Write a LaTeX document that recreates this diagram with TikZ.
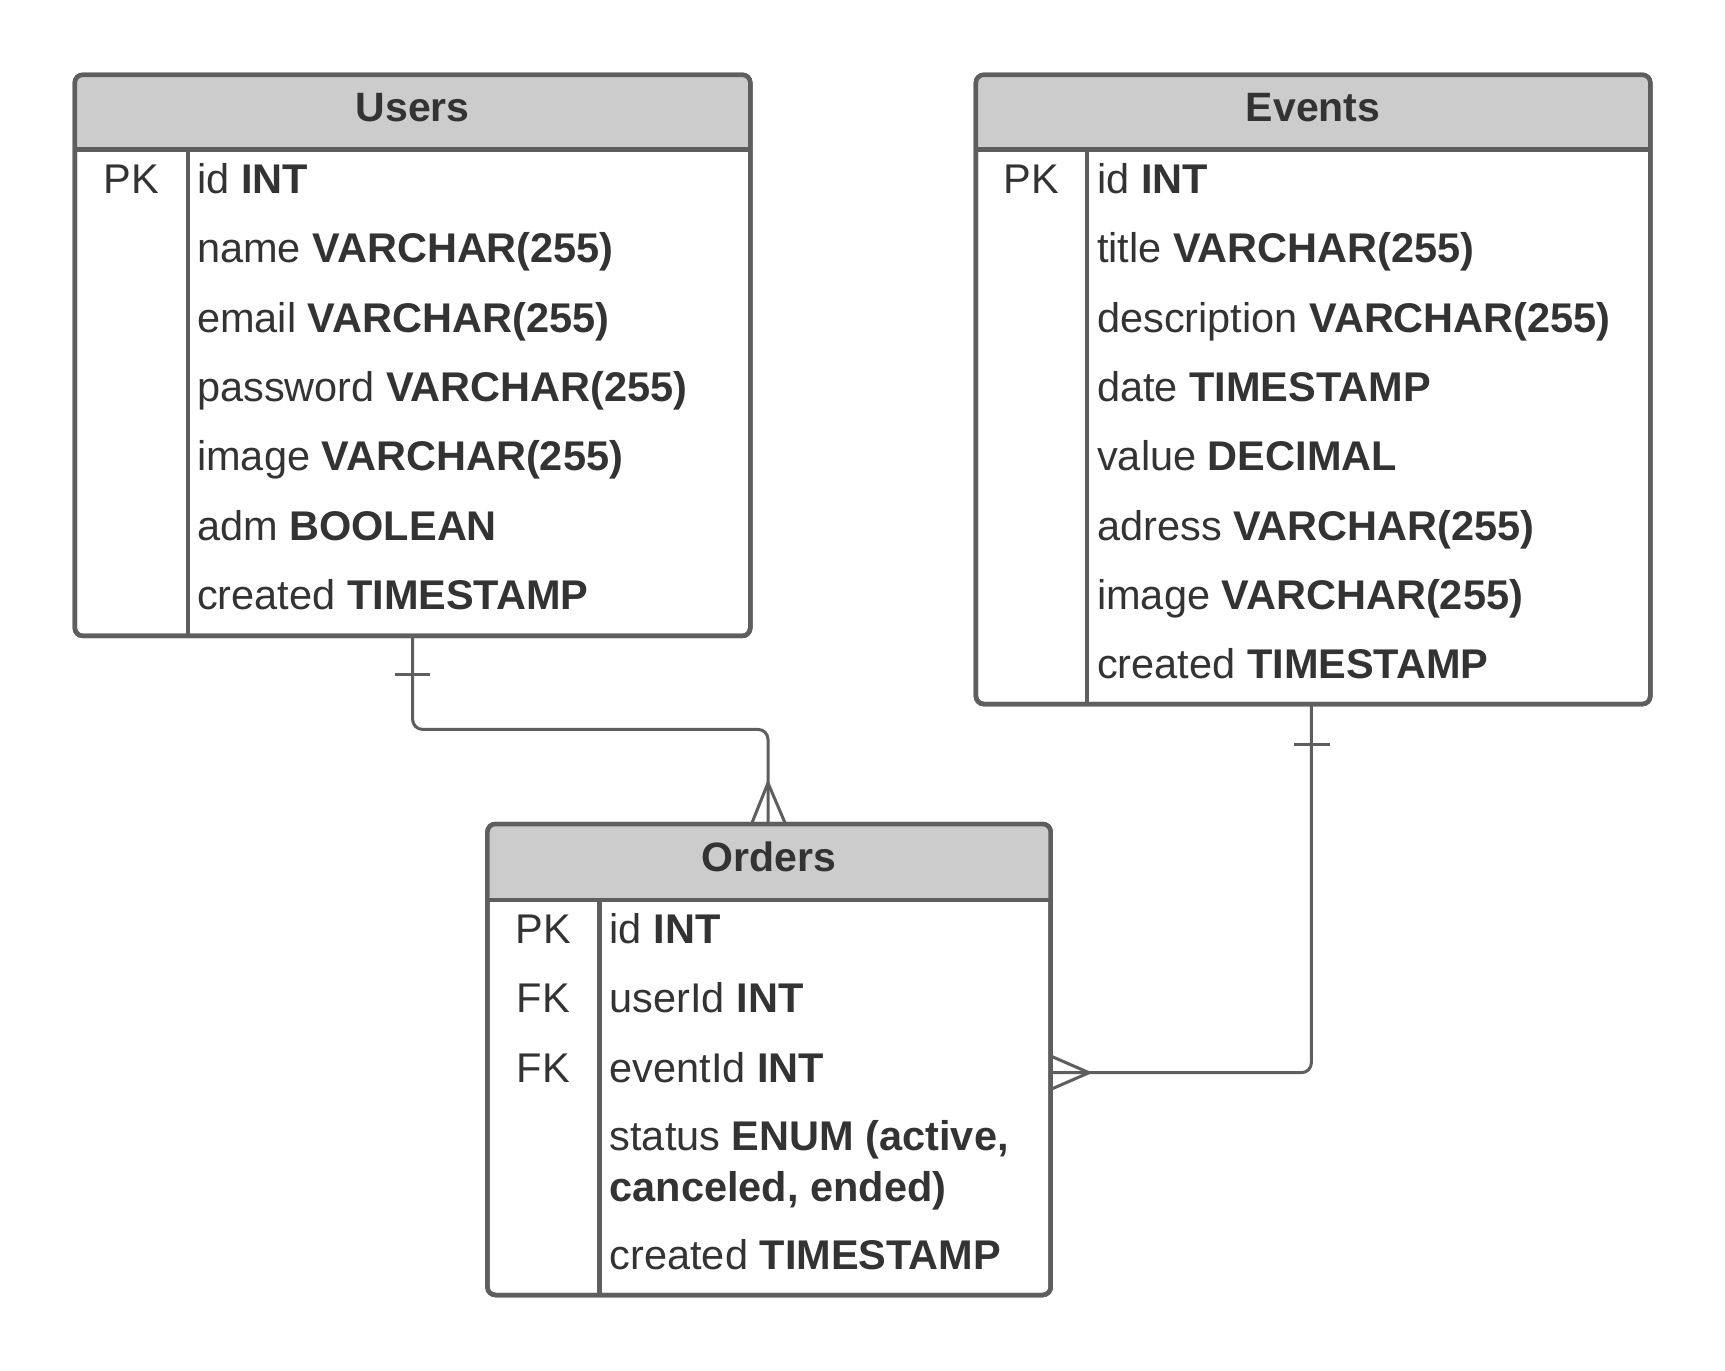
\documentclass[tikz,border=0pt]{standalone}
\usepackage{fontspec}
\setmainfont{Liberation Sans}
\usetikzlibrary{calc}
\definecolor{bordergray}{HTML}{5E5E5E}
\definecolor{hdrgray}{HTML}{CCCCCC}
\definecolor{txtgray}{HTML}{333333}
\tikzset{
  tbl/.style={draw=bordergray, line width=4.5pt, rounded corners=8pt, fill=white, inner sep=0pt, outer sep=0pt, anchor=north west},
  sep/.style={draw=bordergray, line width=4.5pt},
  conn/.style={draw=bordergray, line width=3pt, rounded corners=10pt},
  crowmark/.style={draw=bordergray, line width=3pt},
  rowtxt/.style={anchor=base west, inner sep=0pt, text=txtgray, font=\fontsize{41.5}{48}\selectfont},
  keytxt/.style={anchor=base, inner sep=0pt, text=txtgray, font=\fontsize{41.5}{48}\selectfont},
  hdrtxt/.style={anchor=base, inner sep=0pt, text=txtgray, font=\fontsize{41}{48}\selectfont\bfseries},
}
\begin{document}
\begin{tikzpicture}[x=1pt,y=-1pt]
\useasboundingbox[fill=white] (0,0) rectangle (1725,1371);

% ---------- Users ----------
\node[tbl, minimum width=675.5pt, minimum height=561.1pt] (users) at (74.8,74.8) {};
\begin{scope}
  \clip[rounded corners=8pt] (users.north west) rectangle (users.south east);
  \fill[hdrgray] (users.north west) rectangle (750.3,149.6);
\end{scope}
\draw[sep] (74.8,149.6) -- (750.3,149.6);
\draw[sep] (188.1,149.6) -- (188.1,635.9);
\draw[draw=bordergray, line width=4.5pt, rounded corners=8pt] (users.north west) rectangle (users.south east);
\node[hdrtxt] (usersT) at (412.6,121) {Users};
\node[keytxt] (uk1) at (131.5,193.6) {PK};
\node[rowtxt] (u1) at (197,193.6) {id \textbf{INT}};
\node[rowtxt] (u2) at (197,262.9) {name \textbf{VARCHAR(255)}};
\node[rowtxt] (u3) at (197,332.2) {email \textbf{VARCHAR(255)}};
\node[rowtxt] (u4) at (197,401.5) {password \textbf{VARCHAR(255)}};
\node[rowtxt] (u5) at (197,470.8) {image \textbf{VARCHAR(255)}};
\node[rowtxt] (u6) at (197,540.1) {adm \textbf{BOOLEAN}};
\node[rowtxt] (u7) at (197,609.4) {created \textbf{TIMESTAMP}};

% ---------- Events ----------
\node[tbl, minimum width=674.4pt, minimum height=629.3pt] (events) at (975.9,74.8) {};
\begin{scope}
  \clip[rounded corners=8pt] (events.north west) rectangle (events.south east);
  \fill[hdrgray] (events.north west) rectangle (1650.3,149.6);
\end{scope}
\draw[sep] (975.9,149.6) -- (1650.3,149.6);
\draw[sep] (1087,149.6) -- (1087,704.1);
\draw[draw=bordergray, line width=4.5pt, rounded corners=8pt] (events.north west) rectangle (events.south east);
\node[hdrtxt] (eventsT) at (1313.1,121) {Events};
\node[keytxt] (ek1) at (1031.5,193.6) {PK};
\node[rowtxt] (e1) at (1097,193.6) {id \textbf{INT}};
\node[rowtxt] (e2) at (1097,262.9) {title \textbf{VARCHAR(255)}};
\node[rowtxt] (e3) at (1097,332.2) {description \textbf{VARCHAR(255)}};
\node[rowtxt] (e4) at (1097,401.5) {date \textbf{TIMESTAMP}};
\node[rowtxt] (e5) at (1097,470.8) {value \textbf{DECIMAL}};
\node[rowtxt] (e6) at (1097,540.1) {adress \textbf{VARCHAR(255)}};
\node[rowtxt] (e7) at (1097,609.4) {image \textbf{VARCHAR(255)}};
\node[rowtxt] (e8) at (1097,678.7) {created \textbf{TIMESTAMP}};

% ---------- Orders ----------
\node[tbl, minimum width=563.3pt, minimum height=471pt] (orders) at (487.4,824) {};
\begin{scope}
  \clip[rounded corners=8pt] (orders.north west) rectangle (orders.south east);
  \fill[hdrgray] (orders.north west) rectangle (1050.7,900);
\end{scope}
\draw[sep] (487.4,900) -- (1050.7,900);
\draw[sep] (599.6,900) -- (599.6,1295);
\draw[draw=bordergray, line width=4.5pt, rounded corners=8pt] (orders.north west) rectangle (orders.south east);
\node[hdrtxt] (ordersT) at (769,871) {Orders};
\node[keytxt] (ok1) at (543.5,943.6) {PK};
\node[keytxt] (ok2) at (543.5,1012.9) {FK};
\node[keytxt] (ok3) at (543.5,1082.2) {FK};
\node[rowtxt] (o1) at (609.5,943.6) {id \textbf{INT}};
\node[rowtxt] (o2) at (609.5,1012.9) {userId \textbf{INT}};
\node[rowtxt] (o3) at (609.5,1082.2) {eventId \textbf{INT}};
\node[rowtxt] (o4) at (609.5,1150.5) {status \textbf{ENUM (active,}};
\node[rowtxt] (o4b) at (609.5,1201) {\textbf{canceled, ended)}};
\node[rowtxt] (o5) at (609.5,1269.3) {created \textbf{TIMESTAMP}};

% ---------- Connectors ----------
\coordinate (ux) at (412.6,0);
\coordinate (ox) at (768,0);
\coordinate (ex) at (1311.4,0);
\coordinate (oy) at (0,1072.7);
\coordinate (bend1) at (0,729.4);

% Users -> Orders
\draw[conn] (users.south -| ux) -- (ux |- bend1) -- (ox |- bend1) -- (orders.north -| ox);
\draw[crowmark] (395,674.4) -- (430,674.4);
\draw[crowmark] (751.5,824) -- (768,783) -- (785.5,824);

% Events -> Orders
\draw[conn] (events.south -| ex) -- (ex |- oy) -- (orders.east |- oy);
\draw[crowmark] (1294,744.8) -- (1330,744.8);
\draw[crowmark] (1050.7,1056) -- (1089,1072.7) -- (1050.7,1089.4);
\end{tikzpicture}
\end{document}
